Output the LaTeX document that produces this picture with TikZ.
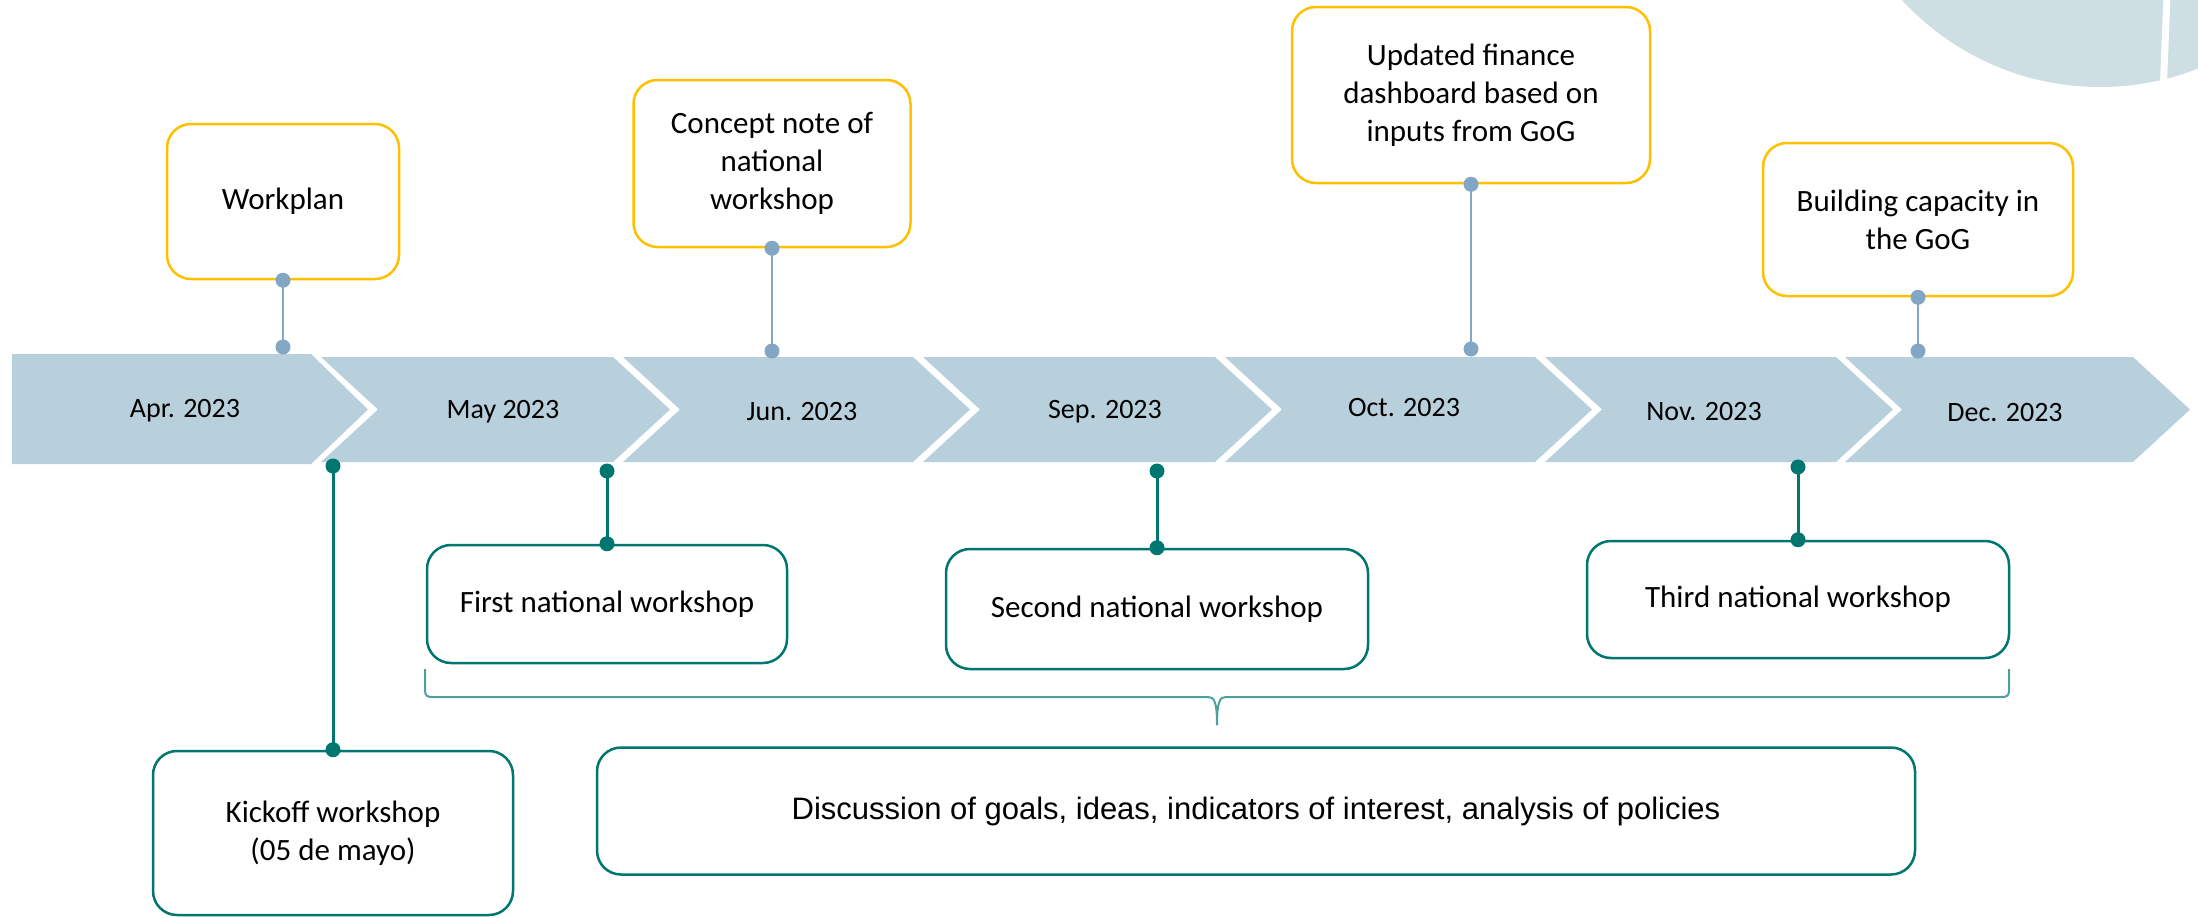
\documentclass[tikz,border=0pt]{standalone}
\usepackage{fontspec}
\setmainfont{Carlito}
\newfontfamily\arialfont{Liberation Sans}
\definecolor{bandc}{HTML}{B8D0DC}
\definecolor{pinu}{HTML}{82A6C4}
\definecolor{tealc}{HTML}{007670}
\definecolor{goldc}{HTML}{FFC000}
\definecolor{bracec}{HTML}{4EA09C}
\definecolor{decoc}{HTML}{CDDFE2}
\newcommand{\chevron}[2]{\fill[bandc] (#1,357) -- (#2,357) -- ++(57,52.5) -- (#2,462) -- (#1,462) -- ++(57,-52.5) -- cycle;}
\tikzset{
  gbox/.style={draw=goldc, line width=2.5pt, rounded corners=24pt, fill=white, align=center, inner sep=0pt, font=\fontsize{31}{38}\selectfont},
  tbox/.style={draw=tealc, line width=2.5pt, rounded corners=24pt, fill=white, align=center, inner sep=0pt, font=\fontsize{31}{38}\selectfont},
  month/.style={font=\fontsize{28}{34}\selectfont, inner sep=0pt},
  udot/.style={circle, fill=pinu, inner sep=0pt, minimum size=15pt},
  tdot/.style={circle, fill=tealc, inner sep=0pt, minimum size=15pt},
  ucon/.style={draw=pinu, line width=2.5pt},
  tcon/.style={draw=tealc, line width=3pt},
}
\begin{document}
\begin{tikzpicture}[x=1pt,y=-1pt]
\useasboundingbox (0,0) rectangle (2198,918);
% decorative shape
\begin{scope}
\clip (0,0) rectangle (2198,918);
\fill[decoc] (2100,-182) circle (269pt);
\draw[white, line width=7pt] (2167,-5) -- (2163,95);
\end{scope}
% timeline band
\fill[bandc] (12,354) -- (311,354) -- (368,409.5) -- (311,464) -- (12,464) -- cycle;
\chevron{321}{613}
\chevron{623}{913}
\chevron{923}{1215}
\chevron{1225}{1535}
\chevron{1545}{1836}
\chevron{1845}{2133}
\node[month] (m1) at (185,411) {Apr. 2023};
\node[month] (m2) at (503,412) {May 2023};
\node[month] (m3) at (802,412) {Jun. 2023};
\node[month] (m4) at (1105,412) {Sep. 2023};
\node[month] (m5) at (1404,408) {Oct. 2023};
\node[month] (m6) at (1704,412) {Nov. 2023};
\node[month] (m7) at (2005,413) {Dec. 2023};
% upper boxes
\node[gbox, minimum width=232pt, minimum height=155pt] (wp) at (283,201.5) {Workplan};
\node[gbox, minimum width=277pt, minimum height=167pt] (cn) at (772,163.5) {Concept note of\\national\\workshop};
\node[gbox, minimum width=358pt, minimum height=176pt] (db) at (1471,95) {Updated finance\\dashboard based on\\inputs from GoG};
\node[gbox, minimum width=310pt, minimum height=153pt] (bc) at (1918,219.5) {Building capacity in\\the GoG};
% lower boxes
\node[tbox, minimum width=360pt, minimum height=164pt] (kick) at (333,833) {Kickoff workshop\\(05 de mayo)};
\node[tbox, minimum width=360pt, minimum height=118pt] (first) at (607,604) {First national workshop};
\node[tbox, minimum width=422pt, minimum height=120pt] (second) at (1157,609) {Second national workshop};
\node[tbox, minimum width=422pt, minimum height=117pt] (third) at (1798,599.5) {Third national workshop};
\node[tbox, minimum width=1318pt, minimum height=127pt, font=\arialfont\fontsize{31}{37}\selectfont] (disc) at (1256,811) {Discussion of goals, ideas, indicators of interest, analysis of policies};
% upper pins
\node[udot] (wpA) at (wp.south) {};
\node[udot] (wpB) at (283,347) {};
\node[udot] (cnA) at (cn.south) {};
\node[udot] (cnB) at (772,351) {};
\node[udot] (dbA) at (db.south) {};
\node[udot] (dbB) at (1471,349) {};
\node[udot] (bcA) at (bc.south) {};
\node[udot] (bcB) at (1918,351) {};
\draw[ucon] (wpA.center) -- (wpB.center);
\draw[ucon] (cnA.center) -- (cnB.center);
\draw[ucon] (dbA.center) -- (dbB.center);
\draw[ucon] (bcA.center) -- (bcB.center);
% lower pins
\node[tdot] (kA) at (333,466) {};
\node[tdot] (kB) at (kick.north) {};
\node[tdot] (fA) at (607,471) {};
\node[tdot] (fB) at (first.north) {};
\node[tdot] (sA) at (1157,471) {};
\node[tdot] (sB) at (second.north) {};
\node[tdot] (tA) at (1798,467) {};
\node[tdot] (tB) at (third.north) {};
\draw[tcon] (kA.center) -- (kB.center);
\draw[tcon] (fA.center) -- (fB.center);
\draw[tcon] (sA.center) -- (sB.center);
\draw[tcon] (tA.center) -- (tB.center);
% brace
\coordinate (brL) at (425,669);
\coordinate (brT) at (1217,725);
\coordinate (brR) at (2009,669);
\draw[bracec, line width=2pt] (brL) -- (425,690) .. controls (425,696) and (427,697) .. (433,697) -- (1208,697) .. controls (1214,697) and (1217,701) .. (brT);
\draw[bracec, line width=2pt] (brT) .. controls (1217,701) and (1220,697) .. (1226,697) -- (2001,697) .. controls (2007,697) and (2009,696) .. (2009,690) -- (brR);
\end{tikzpicture}
\end{document}
